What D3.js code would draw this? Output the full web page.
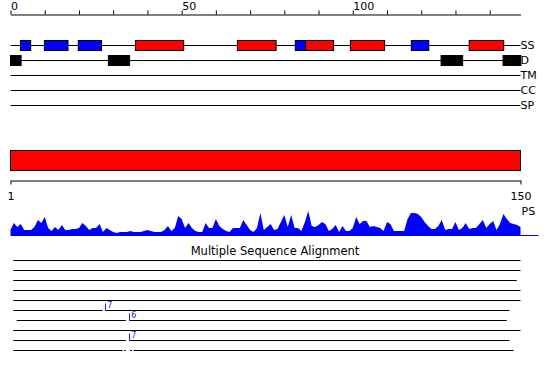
<!DOCTYPE html>
<html>
<head>
<meta charset="utf-8">
<script src="https://cdn.jsdelivr.net/npm/d3@7"></script>
<style>
  body { margin: 0; background: #fff; }
  svg { display: block; }
</style>
</head>
<body>
<div id="chart"></div>
<script>
// protein length and feature tracks
const seqLength = 150;
const trackNames = ['SS', 'D', 'TM', 'CC', 'SP'];

// secondary structure, residue ranges (0-based)
const ssHelix = [[36.5, 50.6], [66.3, 77.6], [86.2, 94.4], [99.3, 109.3], [134.0, 144.1]];
const ssStrand = [[2.9, 5.9], [9.9, 16.8], [19.8, 26.6], [83.2, 86.2], [117.1, 122.2]];
// disordered regions
const disorder = [[0, 3.1], [28.6, 34.8], [125.8, 132.1], [143.9, 149.1]];

// top ruler
const rulerTicks = d3.range(0, 150, 10);
const rulerLabels = [0, 50, 100];

// PS profile, one value per residue
const psValues = [
  6, 13, 9, 12, 6, 6, 6, 9, 16, 13,
  19, 8, 5, 9, 6, 11, 6, 6, 7, 7,
  8, 13, 10, 6, 8, 8, 12, 4, 8, 6,
  4, 3, 4, 4, 4, 5, 4, 4, 4, 5,
  6, 5, 4, 4, 4, 6, 10, 5, 8, 20,
  17, 8, 13, 8, 5, 4, 4, 13, 8, 8,
  17, 10, 7, 5, 4, 8, 8, 8, 16, 11,
  6, 4, 8, 23, 6, 9, 12, 6, 7, 14,
  21, 9, 21, 8, 8, 5, 14, 25, 10, 9,
  11, 14, 12, 5, 7, 11, 4, 10, 5, 5,
  8, 19, 12, 15, 15, 9, 10, 9, 8, 5,
  14, 12, 5, 5, 5, 5, 17, 23, 23, 22,
  19, 14, 10, 7, 7, 10, 16, 6, 7, 7,
  14, 6, 8, 13, 7, 8, 8, 12, 16, 8,
  12, 15, 6, 12, 22, 17, 13, 12, 11, 9
];

// multiple sequence alignment rows: covered segments
const msaSegments = [
  [[0.8, 149]],
  [[0.8, 149]],
  [[0.8, 147.9]],
  [[0.8, 149]],
  [[0.8, 149]],
  [[0.8, 26.9], [27.9, 145.8]],
  [[1.8, 33.7], [34.9, 145]],
  [[0.8, 149]],
  [[0.8, 33.7], [34.9, 145.8]],
  [[0.8, 32.8], [33.2, 33.7], [34.9, 35.5], [35.9, 147]]
];
// insertions: [row, position, length]
const msaInserts = [[5, 27.7, 7], [6, 34.7, 6], [8, 34.7, 7]];

const width = 550;
const height = 380;
const font = '"DejaVu Sans", sans-serif';

const svg = d3.select('#chart')
  .append('svg')
  .attr('width', width)
  .attr('height', height);

svg.append('rect')
  .attr('width', width)
  .attr('height', height)
  .attr('fill', '#ffffff');

// residue scale (0-based) and sequence position scale (1-based)
const x = d3.scaleLinear().domain([0, seqLength - 1]).range([10.5, 520.5]);
const xPos = d3.scaleLinear().domain([1, seqLength]).range([10.5, 520.5]);

// ---- top ruler ----
const ruler = svg.append('g')
  .attr('transform', 'translate(0,14.5)')
  .call(d3.axisTop(x)
    .tickValues(rulerTicks)
    .tickSize(4)
    .tickSizeOuter(0)
    .tickPadding(1)
    .tickFormat(d => rulerLabels.includes(d) ? d : ''));
ruler.selectAll('text')
  .attr('text-anchor', 'start')
  .attr('font-family', font)
  .attr('font-size', 11)
  .attr('fill', '#000');
ruler.selectAll('line, path').attr('stroke', '#000');

// ---- feature tracks ----
const trackY = d3.scalePoint().domain(trackNames).range([45.5, 105.5]);

const tracks = svg.append('g');
tracks.selectAll('line')
  .data(trackNames)
  .enter()
  .append('line')
  .attr('x1', x(0))
  .attr('x2', x(seqLength - 1))
  .attr('y1', d => trackY(d))
  .attr('y2', d => trackY(d))
  .attr('stroke', '#000')
  .attr('stroke-width', 1);

tracks.selectAll('text')
  .data(trackNames)
  .enter()
  .append('text')
  .text(d => d)
  .attr('x', x(seqLength - 1))
  .attr('y', d => trackY(d))
  .attr('dy', '0.36em')
  .attr('font-family', font)
  .attr('font-size', 11)
  .attr('fill', '#000');

const ssBoxes = ssStrand.map(d => ({ s: d[0], e: d[1], color: '#0000ff' }))
  .concat(ssHelix.map(d => ({ s: d[0], e: d[1], color: '#ff0000' })));

svg.append('g')
  .selectAll('rect')
  .data(ssBoxes)
  .enter()
  .append('rect')
  .attr('x', d => x(d.s))
  .attr('width', d => x(d.e) - x(d.s))
  .attr('y', trackY('SS') - 5)
  .attr('height', 10)
  .attr('fill', d => d.color)
  .attr('stroke', '#000')
  .attr('stroke-width', 1);

svg.append('g')
  .selectAll('rect')
  .data(disorder)
  .enter()
  .append('rect')
  .attr('x', d => x(d[0]))
  .attr('width', d => x(d[1]) - x(d[0]))
  .attr('y', trackY('D') - 5)
  .attr('height', 10)
  .attr('fill', '#000')
  .attr('stroke', '#000')
  .attr('stroke-width', 1);

// ---- full-length domain bar ----
svg.append('rect')
  .attr('x', xPos(1))
  .attr('width', xPos(seqLength) - xPos(1))
  .attr('y', 150.5)
  .attr('height', 20)
  .attr('fill', '#ff0000')
  .attr('stroke', '#000')
  .attr('stroke-width', 1);

// ---- length axis ----
const lenAxis = svg.append('g')
  .attr('transform', 'translate(0,180.5)')
  .call(d3.axisBottom(xPos)
    .tickValues([1, seqLength])
    .tickSize(4)
    .tickSizeOuter(0)
    .tickPadding(8));
lenAxis.selectAll('text')
  .attr('font-family', font)
  .attr('font-size', 11)
  .attr('fill', '#000');
lenAxis.selectAll('line, path').attr('stroke', '#000');

// ---- PS profile ----
const yPS = d3.scaleLinear().domain([0, 25]).range([236, 211]);

svg.append('path')
  .datum(psValues)
  .attr('d', d3.area()
    .x((d, i) => x(i))
    .y0(yPS(0))
    .y1(d => yPS(d)))
  .attr('fill', '#0000ff');

svg.append('line')
  .attr('x1', x(seqLength - 1))
  .attr('x2', x(seqLength - 1) + 18)
  .attr('y1', yPS(0) - 0.5)
  .attr('y2', yPS(0) - 0.5)
  .attr('stroke', '#0000ff')
  .attr('stroke-width', 1);

svg.append('text')
  .text('PS')
  .attr('x', x(seqLength - 1) + 1)
  .attr('y', 215)
  .attr('font-family', font)
  .attr('font-size', 11)
  .attr('fill', '#000');

// ---- multiple sequence alignment ----
svg.append('text')
  .text('Multiple Sequence Alignment')
  .attr('x', width / 2)
  .attr('y', 255)
  .attr('text-anchor', 'middle')
  .attr('font-family', font)
  .attr('font-size', 11.5)
  .attr('fill', '#000');

const rowY = d3.scalePoint().domain(d3.range(msaSegments.length)).range([260.5, 350.5]);

const rows = svg.append('g')
  .selectAll('g')
  .data(msaSegments)
  .enter()
  .append('g');

rows.selectAll('line')
  .data((d, i) => d.map(s => ({ s: s[0], e: s[1], row: i })))
  .enter()
  .append('line')
  .attr('x1', d => x(d.s))
  .attr('x2', d => x(d.e))
  .attr('y1', d => rowY(d.row))
  .attr('y2', d => rowY(d.row))
  .attr('stroke', '#000')
  .attr('stroke-width', 1);

const inserts = svg.append('g')
  .selectAll('g')
  .data(msaInserts)
  .enter()
  .append('g');

inserts.append('line')
  .attr('x1', d => Math.round(x(d[1])) + 0.5)
  .attr('x2', d => Math.round(x(d[1])) + 0.5)
  .attr('y1', d => rowY(d[0]) - 7)
  .attr('y2', d => rowY(d[0]) + 0.5)
  .attr('stroke', '#2020ff')
  .attr('stroke-width', 1);

inserts.append('text')
  .text(d => d[2])
  .attr('x', d => x(d[1]) + 2)
  .attr('y', d => rowY(d[0]) - 3)
  .attr('font-family', font)
  .attr('font-size', 8)
  .attr('fill', '#2020ff');
</script>
</body>
</html>
